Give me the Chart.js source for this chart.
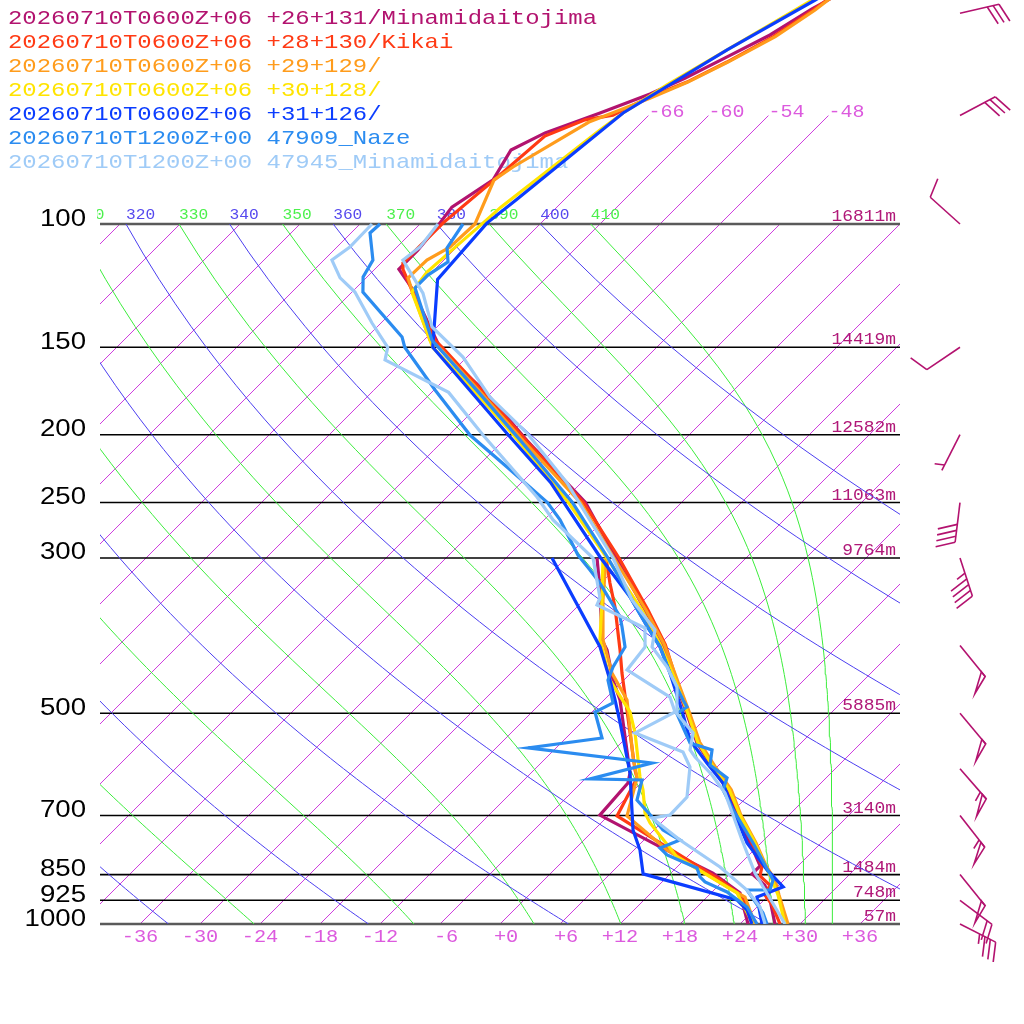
<!DOCTYPE html>
<html><head><meta charset="utf-8">
<script src="https://cdn.jsdelivr.net/npm/chart.js@4/dist/chart.umd.min.js"></script>
<style>html,body{margin:0;padding:0;background:#fff}canvas{display:block}</style>
</head><body>
<canvas id="c" width="1024" height="1024"></canvas>
<script>
// ---------- legend / categories ----------
const legendLabels = [
  '20260710T0600Z+06 +26+131/Minamidaitojima',
  '20260710T0600Z+06 +28+130/Kikai',
  '20260710T0600Z+06 +29+129/',
  '20260710T0600Z+06 +30+128/',
  '20260710T0600Z+06 +31+126/',
  '20260710T1200Z+00 47909_Naze',
  '20260710T1200Z+00 47945_Minamidaitojima'
];
const seriesColors = ['#b2136f','#ff3a14','#ff9c1c','#ffe400','#0b3dff','#2b8cf0','#9fcbf7'];

// ---------- sounding data: [pressure hPa, temperature degC] ----------
const minamiModelT = [[1000,27.5],[924,24.6],[880,22.6],[848,20.2],[826,20.2],[766,16.9],[699,12.8],[643,9.3],[595,5.4],[550,1.5],[500,-2.4],[450,-6.8],[399,-11.7],[356,-16.9],[300,-25.0],[250,-33.6],[204,-45.6],[174,-54.6],[151,-63.4],[123,-72.6],[116,-75.6],[109,-75.6],[101,-76.0],[94.6,-76.5],[86.5,-75.1],[78.4,-76.3],[74.1,-74.6],[69.4,-71.1],[65.2,-68.0],[61.9,-66.1],[57.9,-64.1],[53.7,-61.9],[49.3,-60.3],[47.9,-59.6],[45,-58.5]];
const minamiModelTd = [[1000,24.8],[903,20.9],[846,16.2],[776,8.3],[699,-0.9],[629,-1.3],[608.5,-2.1],[516,-7.8],[478.6,-10.4],[448.2,-13.1],[406,-16.7],[392.9,-18.2],[333.3,-23.4],[300,-26.9]];
const kikaiT = [[1000,28.0],[939,25.3],[909,23.6],[880,23.1],[854,21.2],[826,20.4],[766,17.1],[699,13.1],[643,9.6],[595,5.6],[550,1.7],[500,-2.2],[450,-6.6],[399,-11.4],[356,-16.6],[300,-24.7],[250,-33.8],[204,-45.7],[174,-54.8],[150.4,-63.3],[146.5,-64.9],[124.3,-72.2],[116,-75.2],[113.7,-75.8],[99.7,-75.8],[86.5,-75.0],[74.9,-74.3],[71.0,-71.9],[69.9,-69.6],[65.8,-67.7],[62.7,-65.5],[58.7,-63.5],[54.0,-61.4],[49.5,-60.1],[47.9,-59.7],[45,-58.6]];
const kikaiTd = [[1000,25.2],[915,21.6],[865,17.6],[766,7.9],[700.9,0.9],[618.5,-0.9],[602.6,-1.9],[494.7,-8.7],[438,-12.9],[406,-15.4],[352.5,-20.2],[325.8,-23.1],[300,-26.0]];
const p29T = [[1000,28.8],[909,25.0],[865,23.1],[826,20.8],[766,17.5],[699,13.2],[643,9.7],[595,5.7],[550,1.8],[500,-2.1],[450,-6.5],[399,-11.5],[356,-16.8],[300,-25.2],[250,-34.1],[204,-46.0],[174,-55.1],[150.4,-63.6],[146.5,-65.4],[124.3,-72.2],[119.4,-73.8],[112.6,-73.7],[107.9,-72.7],[100,-72.5],[86.5,-75.0],[82.9,-74.4],[71.5,-71.3],[69.2,-69.7],[66.1,-67.6],[62.7,-65.4],[58.7,-63.4],[54.0,-61.2],[49.5,-59.9],[47.9,-59.6],[45,-58.5]];
const p29Td = [[1000,25.5],[915,21.8],[885,19.0],[784,9.3],[700.9,1.9],[618.5,-0.9],[577.3,-3.4],[478.6,-9.7],[438,-13.9],[392.9,-18.1],[344.5,-22.1],[315.2,-24.6],[300,-26.0]];
const p30T = [[1000,28.5],[909,24.9],[865,22.8],[826,20.7],[766,17.4],[699,13.1],[643,9.5],[595,5.5],[550,1.6],[500,-2.3],[450,-6.7],[399,-11.9],[356,-17.2],[300,-25.9],[250,-35.3],[200,-47.6],[174,-55.6],[150,-64.4],[125.1,-72.0],[117.1,-72.5],[106.4,-72.1],[99.7,-71.8],[94.6,-71.6],[73.4,-69.4],[69.4,-68.8],[63.3,-67.2],[56.4,-64.7],[47.9,-61.2],[45,-59.8]];
const p30Td = [[1000,25.3],[903,20.6],[802,11.0],[717.2,4.9],[694,3.4],[643.5,0.9],[616.6,-0.7],[533.4,-5.6],[497.9,-8.2],[448.2,-13.4],[392.9,-18.4],[344.5,-22.2],[300,-26.3]];
const p31T = [[1000,26.2],[915,23.0],[885,24.6],[837,21.3],[766,16.6],[687,11.9],[629,8.2],[589,4.6],[546,0.6],[500,-2.8],[438,-8.1],[402,-11.7],[376,-15.0],[341,-19.7],[299,-26.7],[234,-39.1],[199,-48.4],[150,-64.4],[120,-70.7],[99.7,-71.4],[92.4,-70.8],[69.4,-68.8],[56.4,-64.7],[47.9,-60.9],[45,-59.4]];
const p31Td = [[1000,25.2],[955,23.3],[924,21.3],[848,9.3],[784,6.6],[734,3.9],[608.5,-2.1],[516,-8.1],[478.6,-10.9],[448.2,-13.4],[402,-17.7],[300,-31.4]];
const nazeT = [[1000,26.7],[964.4,25.2],[894.2,21.3],[894.2,23.6],[865,22.9],[766,17.2],[687,11.9],[643.5,8.9],[618.5,8.1],[592.7,5.1],[564.1,3.8],[551.3,0.9],[500,-3.4],[489.8,-3.0],[478.6,-4.1],[438,-8.1],[402,-11.7],[376,-15.0],[341,-19.7],[300,-25.8],[250,-34.9],[203.5,-46.4],[174,-55.3],[146.5,-65.2],[123.4,-72.1],[118.3,-72.1],[113.3,-71.4],[108.2,-72.9],[100,-73.7]];
const nazeTd = [[1000,25.7],[945.6,23.0],[900.1,19.5],[870.9,16.3],[856.7,15.3],[831.8,14.1],[796.9,9.8],[778.9,8.4],[758.6,9.6],[734,6.9],[705.5,4.7],[665.1,1.3],[622.6,-0.2],[620.6,-5.5],[588.9,-0.9],[560.4,-14.8],[542.3,-8.4],[497.9,-11.7],[483.3,-10.8],[448.2,-13.6],[429.3,-14.4],[402,-15.2],[376.4,-17.5],[364.2,-18.7],[325.8,-24.1],[312.1,-26.4],[297.1,-29.1],[264.7,-34.4],[250,-37.4],[222.4,-45.0],[200.2,-51.9],[172.6,-59.9],[150,-67.2],[145,-68.5],[125.1,-76.9],[119,-78.4],[112.6,-79.1],[103,-82.1],[100,-82.0]];
const minamiObsT = [[1000,28.5],[909,23.9],[845.6,20.4],[758.6,15.8],[698.6,12.4],[649.9,9.4],[612.5,6.3],[577.3,2.8],[564.1,1.6],[533.4,0.2],[500,-3.4],[458.6,-6.0],[429.3,-9.0],[402,-12.5],[380.2,-13.9],[344.5,-19.2],[300,-25.3],[234.4,-37.4],[198.9,-46.4],[176.7,-53.7],[154.9,-60.4],[140.3,-66.5],[125.5,-70.8],[112.6,-76.1],[107.9,-75.7],[100,-76.2]];
const minamiObsTd = [[1000,26.5],[945.6,24.3],[894.2,21.3],[829,16.3],[758.6,9.6],[705.5,4.6],[698.6,6.1],[658.5,6.0],[596.7,3.3],[567.9,1.1],[533.4,-5.6],[497.9,-3.7],[474,-5.7],[433.6,-12.7],[402,-13.2],[377.7,-15.1],[350.2,-22.2],[342.2,-22.6],[300,-27.3],[264.7,-35.1],[245.5,-39.0],[200.2,-50.6],[174,-58.3],[156.4,-67.9],[150,-68.9],[138.5,-72.9],[125.1,-77.7],[119.4,-80.6],[112.6,-83.2],[107.9,-82.7],[100,-82.8]];

// ---------- wind barbs ----------
const windP   = [50,70,100,150,200,250,300,400,500,600,700,850,925,1000];
const windDir = [77,62,312,236,207,187,162,141,140,139,142,141,127,117];
const windKt  = [30,30,10,10,5,40,45,50,50,55,55,50,20,35];

// ---------- axis / label texts ----------
const pressureLevels = [100,150,200,250,300,500,700,850,925,1000];
const heightLabels = ['16811m','14419m','12582m','11063m','9764m','5885m','3140m','1484m','748m','57m'];
const tempTicks = [-36,-30,-24,-18,-12,-6,0,6,12,18,24,30,36];
const isothermTopLabels = [-66,-60,-54,-48];
const thetaLabels = [310,320,330,340,350,360,370,380,390,400,410];
const dryThetas = [240,260,280,300,320,340,360,380,400];
const moistThetaEs = [250,270,290,310,330,350,370,390,410];
const isotherms = []; for(let T=-108; T<=36; T+=6) isotherms.push(T);

// ---------- skew-T helpers ----------
const PMIN = 1000/Math.pow(10,924/700);
const SKEW = 70; // degC per decade of pressure
function skewX(T,p){ return T + SKEW*Math.log10(1000/p); }
function toPts(arr){ return arr.map(([p,T]) => ({x: skewX(T,p), y: p})); }
function es(Tc){ return 6.112*Math.exp(17.67*Tc/(Tc+243.5)); }
function thetaESat(Tc,p){
  const TK=Tc+273.15, e=es(Tc);
  const r=Math.max(0,1000*0.622*e/Math.max(p-e,1e-3));
  return TK*Math.pow(1000/p,0.2854*(1-0.00028*r))*Math.exp((3.376/TK-0.00254)*r*(1+0.00081*r));
}
function moistT(the,p){
  let lo=-170,hi=60;
  for(let i=0;i<60;i++){ const m=(lo+hi)/2; if(thetaESat(m,p)<the) lo=m; else hi=m; }
  return (lo+hi)/2;
}
const curveP = []; for(let p=1000;p>=100;p-=10) curveP.push(p);

const ISO_COLOR = 'rgb(206,60,222)';
const DRY_COLOR = '#4c3ff0';
const MOIST_COLOR = '#3ced3c';

const datasets = [];
// dry adiabats
dryThetas.forEach(th => {
  datasets.push({data: curveP.map(p => ({x: skewX(th*Math.pow(p/1000,0.2857)-273.15,p), y:p})), borderColor:DRY_COLOR, backgroundColor:DRY_COLOR, borderWidth:1, order:100});
});
// moist adiabats
moistThetaEs.forEach(te => {
  datasets.push({data: curveP.map(p => ({x: skewX(moistT(te,p),p), y:p})), borderColor:MOIST_COLOR, backgroundColor:MOIST_COLOR, borderWidth:1, order:100});
});
// soundings
const soundings = [
  [minamiModelT,minamiModelTd],[kikaiT,kikaiTd],[p29T,p29Td],[p30T,p30Td],[p31T,p31Td],[nazeT,nazeTd],[minamiObsT,minamiObsTd]
];
soundings.forEach((pair,i) => {
  pair.forEach(arr => {
    datasets.push({data: toPts(arr), borderColor: seriesColors[i], backgroundColor: seriesColors[i], borderWidth: 3.2, order: 20-i});
  });
});

function sText(ctx, txt, x, y, align, sx){
  ctx.save(); ctx.translate(x,y); ctx.scale(sx,1); ctx.textAlign=align; ctx.fillText(txt,0,0); ctx.restore();
}

const decor = {
  id:'decor',
  beforeDatasetsDraw(chart){
    const ctx=chart.ctx, xs=chart.scales.x, ys=chart.scales.y, ca=chart.chartArea;
    ctx.save();
    ctx.textBaseline='alphabetic';
    // isotherms (skewed straight lines) through the chart scales
    ctx.save();
    ctx.beginPath(); ctx.rect(ca.left, ca.top, ca.right-ca.left, ca.bottom-ca.top); ctx.clip();
    ctx.strokeStyle = ISO_COLOR; ctx.lineWidth = 1;
    isotherms.forEach(T => {
      const top = (T>=-66 && T<=-48) ? 70 : 100;
      ctx.beginPath();
      ctx.moveTo(xs.getPixelForValue(skewX(T,1000)), ys.getPixelForValue(1000));
      ctx.lineTo(xs.getPixelForValue(skewX(T,top)), ys.getPixelForValue(top));
      ctx.stroke();
    });
    ctx.restore();
    // pressure lines
    pressureLevels.forEach((p,i) => {
      const y=ys.getPixelForValue(p);
      const edge = (p===100||p===1000);
      ctx.strokeStyle = edge ? '#5a5a5a' : '#000';
      ctx.lineWidth = edge ? 2.5 : 1.6;
      ctx.beginPath(); ctx.moveTo(ca.left,y); ctx.lineTo(ca.right,y); ctx.stroke();
      ctx.fillStyle='#000'; ctx.font='23px "Liberation Sans", Arial, sans-serif';
      sText(ctx, String(p), 86, y+1.5, 'right', 1.2);
      ctx.fillStyle='#b01878'; ctx.font='16px "Liberation Mono", monospace';
      sText(ctx, heightLabels[i], 896, y-3, 'right', 1.12);
    });
    // bottom temperature labels
    ctx.fillStyle='#dc5ade'; ctx.font='18px "Liberation Mono", monospace';
    tempTicks.forEach(T => {
      const lbl = (T>=0?'+':'')+T;
      sText(ctx, lbl.padStart(3,' '), xs.getPixelForValue(skewX(T,1000)), 942, 'center', 1.13);
    });
    // isotherm top labels
    isothermTopLabels.forEach(T => {
      sText(ctx, String(T), xs.getPixelForValue(skewX(T,70)), ys.getPixelForValue(70)+1, 'left', 1.11);
    });
    // theta labels at 100 hPa
    ctx.save();
    ctx.beginPath(); ctx.rect(97,0,803,1024); ctx.clip();
    ctx.font='15px "Liberation Mono", monospace';
    const y100 = ys.getPixelForValue(100);
    thetaLabels.forEach(th => {
      const dry = (th%20===0);
      const T = dry ? th*Math.pow(0.1,0.2857)-273.15 : moistT(th,100);
      ctx.fillStyle = dry ? '#5548ee' : '#4cf04c';
      sText(ctx, String(th), xs.getPixelForValue(skewX(T,100)), y100-5, 'left', 1.08);
    });
    ctx.restore();
    // legend
    ctx.font='21px "Liberation Mono", monospace';
    legendLabels.forEach((t,i) => {
      ctx.fillStyle = seriesColors[i];
      sText(ctx, t, 8, 24+24*i, 'left', 1.14);
    });
    ctx.restore();
  },
  afterDraw(chart){
    const ctx=chart.ctx, ys=chart.scales.y;
    ctx.save();
    ctx.strokeStyle='#b3126f'; ctx.lineWidth=1.6; ctx.lineJoin='miter';
    windP.forEach((p,i) => drawBarb(ctx, 960, ys.getPixelForValue(p), windDir[i], windKt[i]));
    ctx.restore();
  }
};

function drawBarb(ctx, x0, y0, dirDeg, spd){
  const L=40, bl=20, sp=6, pw=6;
  const a=dirDeg*Math.PI/180;
  const ux=Math.sin(a), uy=-Math.cos(a);
  const r=70*Math.PI/180;
  const bx=ux*Math.cos(r)-uy*Math.sin(r), by=ux*Math.sin(r)+uy*Math.cos(r);
  const tx=x0+ux*L, ty=y0+uy*L;
  ctx.beginPath(); ctx.moveTo(x0,y0); ctx.lineTo(tx,ty); ctx.stroke();
  let s=Math.round(spd/5)*5, pos=0;
  while(s>=50){
    const px=tx-ux*pos, py=ty-uy*pos;
    ctx.beginPath(); ctx.moveTo(px,py); ctx.lineTo(px+bx*bl,py+by*bl); ctx.lineTo(px-ux*pw,py-uy*pw); ctx.closePath(); ctx.stroke();
    pos+=pw+3; s-=50;
  }
  while(s>=10){
    const px=tx-ux*pos, py=ty-uy*pos;
    ctx.beginPath(); ctx.moveTo(px,py); ctx.lineTo(px+bx*bl,py+by*bl); ctx.stroke();
    pos+=sp; s-=10;
  }
  if(s>=5){
    if(pos===0) pos=sp;
    const px=tx-ux*pos, py=ty-uy*pos;
    ctx.beginPath(); ctx.moveTo(px,py); ctx.lineTo(px+bx*bl/2,py+by*bl/2); ctx.stroke();
  }
}

new Chart(document.getElementById('c'), {
  type:'scatter',
  data:{datasets: datasets.map(d => Object.assign({showLine:true, pointRadius:0, pointHoverRadius:0, fill:false, tension:0, clip:0}, d))},
  options:{
    responsive:false, animation:false, devicePixelRatio:1,
    layout:{padding:{left:100,right:124,top:0,bottom:100}},
    scales:{
      x:{type:'linear', min:-40, max:40, display:false},
      y:{type:'logarithmic', min:PMIN, max:1000, reverse:true, display:false}
    },
    plugins:{legend:{display:false}, tooltip:{enabled:false}, colors:{enabled:false}},
    events:[]
  },
  plugins:[decor]
});
</script>
</body></html>
